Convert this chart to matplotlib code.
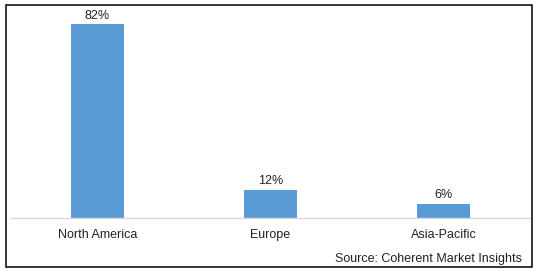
import matplotlib

matplotlib.use("Agg")
import matplotlib.pyplot as plt  # noqa: E402
from matplotlib.patches import Rectangle  # noqa: E402

regions = ["North America", "Europe", "Asia-Pacific"]
shares = [82, 12, 6]
source_note = "Source: Coherent Market Insights"

W, H = 538, 272
plt.rcParams["font.family"] = ["Liberation Sans", "DejaVu Sans"]

fig = plt.figure(figsize=(W / 100, H / 100), dpi=100)
ax = fig.add_axes([11 / W, 1 - 218 / H, 519 / W, 213 / H])

x = range(len(regions))
ax.bar(x, shares, width=0.31, color="#5B9BD5")
for xi, v in zip(x, shares):
    ax.text(xi, v + 1.0, f"{v}%", ha="center", va="bottom", fontsize=9, color="#222222")

ax.set_xlim(-0.5, len(regions) - 0.5)
ax.set_ylim(0, 90)
ax.set_xticks(list(x))
ax.set_xticklabels(regions, fontsize=9, color="#222222")
ax.tick_params(axis="x", length=0, pad=8)
ax.set_yticks([])
for side in ("top", "right", "left"):
    ax.spines[side].set_visible(False)
ax.spines["bottom"].set_color("#D9D9D9")
ax.spines["bottom"].set_linewidth(1)

# outer frame
fig.patches.append(Rectangle((5.5 / W, 1 - 267 / H), 526 / W, 262 / H,
                             transform=fig.transFigure, fill=False,
                             edgecolor="black", linewidth=1.1))
fig.text(522 / W, 1 - 259 / H, source_note, ha="right", va="center",
         fontsize=9, color="#222222")

fig.savefig("out.png", dpi=100)
